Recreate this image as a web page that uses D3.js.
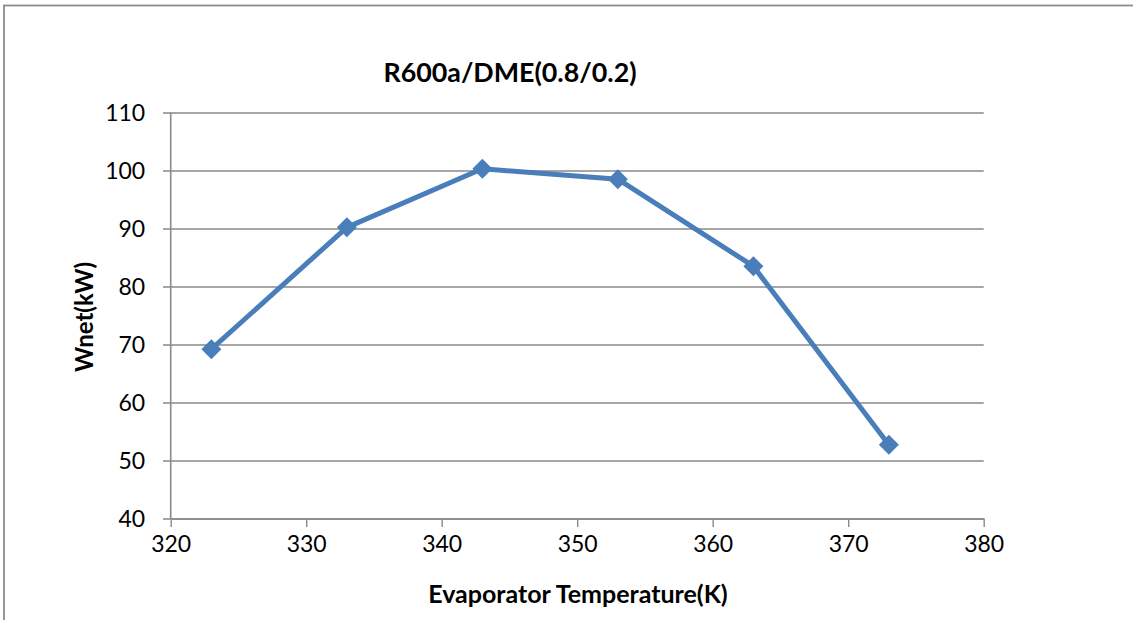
<!DOCTYPE html>
<html>
<head>
<meta charset="utf-8">
<script src="https://cdn.jsdelivr.net/npm/d3@7"></script>
<style>
  html, body { margin: 0; padding: 0; background: #fff; }
  svg { display: block; }
  text { font-family: Lato, "Open Sans", sans-serif; fill: #000; }
</style>
</head>
<body>
<svg id="chart" width="1133" height="620"></svg>
<script>
// Net work output vs evaporator temperature
const temperatures = [323, 333, 343, 353, 363, 373];
const wnet = [69.2, 90.2, 100.3, 98.5, 83.5, 52.7];
const xTicks = [320, 330, 340, 350, 360, 370, 380];
const yTicks = [40, 50, 60, 70, 80, 90, 100, 110];
const chartTitle = "R600a/DME(0.8/0.2)";
const xTitle = "Evaporator Temperature(K)";
const yTitle = "Wnet(kW)";

const svg = d3.select("#chart");
const W = 1133, H = 620;
const plot = { left: 170.7, right: 983.7, top: 112.5, bottom: 518.5 };
const gridColor = "#898989";
const seriesColor = "#4A7EBB";

// chart frame
svg.append("rect")
  .attr("x", 4).attr("y", 5.5)
  .attr("width", W + 10).attr("height", H + 10)
  .attr("fill", "none").attr("stroke", "#8c8c8c").attr("stroke-width", 1.8);

const x = d3.scaleLinear().domain([320, 380]).range([plot.left, plot.right]);
const y = d3.scaleLinear().domain([40, 110]).range([plot.bottom, plot.top]);

// horizontal gridlines with tick stubs on the left
const yAxis = d3.axisLeft(y)
  .tickValues(yTicks)
  .tickSize(-(plot.right - plot.left))
  .tickSizeOuter(0)
  .tickFormat(d3.format("d"));

const gy = svg.append("g")
  .attr("transform", `translate(${plot.left},0)`)
  .call(yAxis);
gy.select(".domain").remove();
gy.selectAll(".tick line")
  .attr("x1", -7.7)
  .attr("stroke", gridColor).attr("stroke-width", 1.4);
gy.selectAll(".tick text")
  .attr("x", -25.5)
  .attr("dy", "0.34em")
  .style("font-size", "23px").style("font-family", "Lato, sans-serif")
  .attr("fill", "#000");

// vertical axis line
svg.append("line")
  .attr("x1", plot.left).attr("x2", plot.left)
  .attr("y1", plot.top).attr("y2", plot.bottom)
  .attr("stroke", gridColor).attr("stroke-width", 1.6);

// horizontal axis
const xAxis = d3.axisBottom(x)
  .tickValues(xTicks)
  .tickSize(8.5)
  .tickSizeOuter(0)
  .tickPadding(9)
  .tickFormat(d3.format("d"));

const gx = svg.append("g")
  .attr("transform", `translate(0,${plot.bottom})`)
  .call(xAxis);
gx.select(".domain").attr("stroke", gridColor).attr("stroke-width", 1.6);
gx.selectAll(".tick line").attr("stroke", gridColor).attr("stroke-width", 1.4);
gx.selectAll(".tick text")
  .style("font-size", "23px").style("font-family", "Lato, sans-serif")
  .attr("fill", "#000");

// data series
const pts = temperatures.map((t, i) => [t, wnet[i]]);
const line = d3.line().x(d => x(d[0])).y(d => y(d[1]));

svg.append("path")
  .datum(pts)
  .attr("d", line)
  .attr("fill", "none")
  .attr("stroke", seriesColor)
  .attr("stroke-width", 5)
  .attr("stroke-linejoin", "round");

const marker = d3.symbol().type(d3.symbolSquare).size(200);
svg.append("g").selectAll("path")
  .data(pts)
  .join("path")
  .attr("d", marker)
  .attr("transform", d => `translate(${x(d[0])},${y(d[1])}) rotate(45)`)
  .attr("fill", seriesColor);

// titles
svg.append("text")
  .attr("x", 510).attr("y", 81.5)
  .attr("text-anchor", "middle")
  .style("font-size", "26.8px").style("font-weight", "bold")
  .text(chartTitle);

svg.append("text")
  .attr("x", 578).attr("y", 603)
  .attr("text-anchor", "middle")
  .style("font-size", "25px").style("font-weight", "bold")
  .text(xTitle);

svg.append("text")
  .attr("transform", `translate(92.5,317) rotate(-90)`)
  .attr("text-anchor", "middle")
  .style("font-size", "24px").style("font-weight", "bold")
  .text(yTitle);
</script>
</body>
</html>
